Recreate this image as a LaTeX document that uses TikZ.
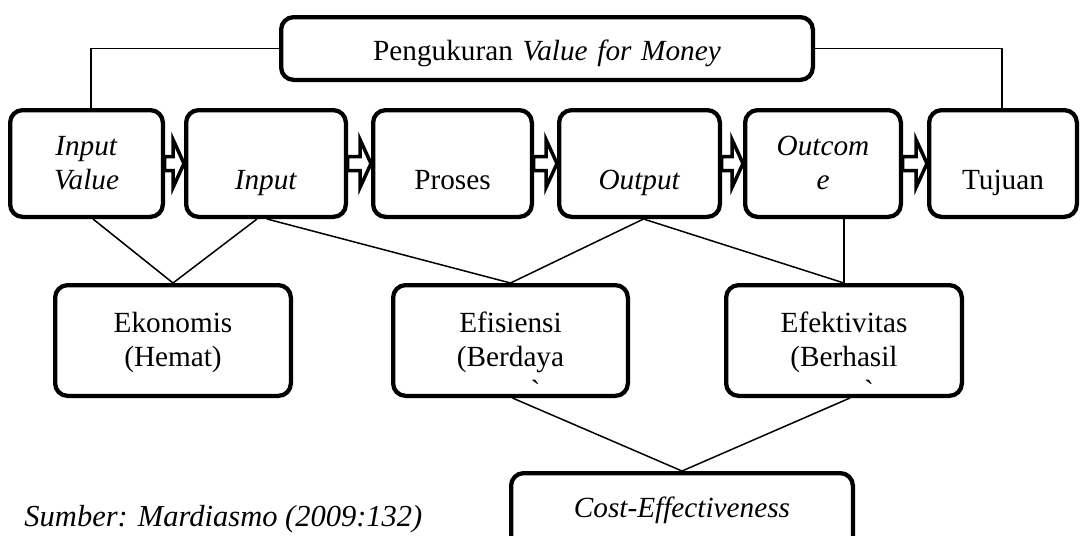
\documentclass[tikz,border=0pt]{standalone}
\usepackage{fontspec}
\setmainfont{Liberation Serif}[Ligatures=TeXOff]
\begin{document}
\begin{tikzpicture}
  [x=0.4pt,y=-0.4pt,
   vbox/.style={draw,rounded corners=5pt,line width=1.7pt,inner sep=0pt,
     anchor=north west,align=center,text width=#1,
     font=\fontsize{11.7}{13.6}\selectfont},
   rowA/.style={text height=18pt,text depth=24.7pt},
   rowB/.style={text height=18.9pt,text depth=25.4pt},
   link/.style={line width=0.6pt},
   blockarrow/.style={draw,fill=white,line width=1.4pt}]

  \useasboundingbox (0,0) rectangle (1081,535);

  % top box
  \node[vbox=212.7pt,text height=17.2pt,text depth=7.9pt] (top) at (279,15)
    {Pengukuran \textit{Value for Money}};

  % chain
  \node[vbox=61.1pt,rowA] (iv)   at (8,108)   {\textit{Input}\\\textit{Value}};
  \node[vbox=63.9pt,rowA] (inp)  at (184,108) {\mbox{}\\\textit{Input}};
  \node[vbox=63.5pt,rowA] (pro)  at (371,108) {\mbox{}\\Proses};
  \node[vbox=64.3pt,rowA] (outp) at (557,108) {\mbox{}\\\textit{Output}};
  \node[vbox=62.3pt,rowA] (outc) at (743,108) {\textit{Outcom}\\\textit{e}};
  \node[vbox=59.1pt,rowA] (tuj)  at (927,108) {\mbox{}\\Tujuan};

  % the three E
  \node[vbox=94.3pt,rowB] (eko) at (53,283)  {Ekonomis\\(Hemat)};
  \node[vbox=93.9pt,rowB] (efi) at (391,283) {Efisiensi\\(Berdaya\\\hspace*{20pt}`};
  \node[vbox=94.3pt,rowB] (efe) at (724,283) {Efektivitas\\(Berhasil\\\hspace*{20pt}`};

  \node[vbox=136.7pt,text height=17.6pt,text depth=40pt] (cost) at (509,471)
    {\textit{Cost-Effectiveness}};

  \foreach \a/\b in {iv/inp,inp/pro,pro/outp,outp/outc,outc/tuj}
    \draw[blockarrow] ([xshift=-0.2pt,yshift=2.8pt]\a.east)
      -- ([xshift=-4.4pt,yshift=2.8pt]\b.west)
      -- ([xshift=-4.4pt,yshift=9.6pt]\b.west)
      -- (\b.west)
      -- ([xshift=-4.4pt,yshift=-9.6pt]\b.west)
      -- ([xshift=-4.4pt,yshift=-2.8pt]\b.west)
      -- ([xshift=-0.2pt,yshift=-2.8pt]\a.east) -- cycle;

  \draw[link] (top.west) -| ([xshift=1.8pt]iv.north);
  \draw[link] (top.east) -| ([xshift=-0.4pt]tuj.north);

  \draw[link] ([xshift=2.6pt]iv.south) -- (eko.north);
  \draw[link] ([xshift=-3.6pt]inp.south) -- (eko.north);
  \draw[link] ([xshift=0.4pt]inp.south) -- (efi.north);
  \draw[link] ([xshift=1.6pt]outp.south) -- (efi.north);
  \draw[link] ([xshift=1.6pt]outp.south) -- (efe.north);
  \draw[link] (efe.north |- outc.south) -- (efe.north);
  \draw[link] ([xshift=0.8pt]efi.south) -- (cost.north);
  \draw[link] ([xshift=2.4pt]efe.south) -- (cost.north);

  \node[anchor=base west,inner sep=0pt,font=\fontsize{12.2}{14}\selectfont\itshape]
    (src) at (24,526) {Sumber: Mardiasmo (2009:132)};
\end{tikzpicture}
\end{document}
